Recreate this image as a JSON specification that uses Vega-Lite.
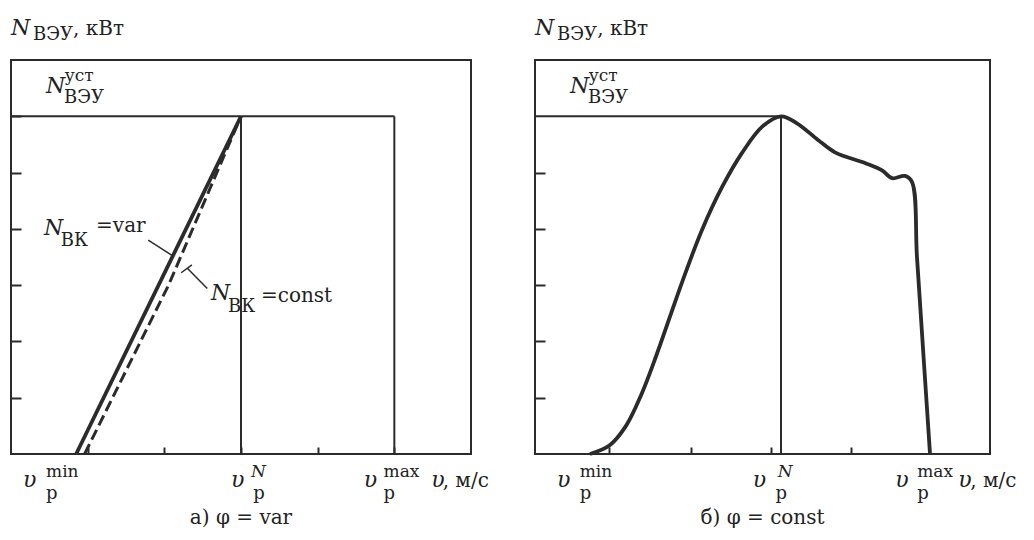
{
  "$schema": "https://vega.github.io/schema/vega-lite/v6.json",
  "background": "#ffffff",
  "padding": {"left": 9, "top": 16, "right": 0, "bottom": 0},
  "bounds": "flush",
  "spacing": 64,
  "config": {
    "view": {"stroke": "#2b2b2b", "strokeWidth": 2},
    "font": "DejaVu Serif",
    "text": {"font": "DejaVu Serif", "color": "#222222", "baseline": "alphabetic"},
    "axis": {"grid": false, "domain": false, "labels": false, "title": null, "tickColor": "#2b2b2b", "tickWidth": 2}
  },
  "datasets": {
    "rampVar": [{"x": 0.85, "y": 0}, {"x": 3, "y": 6}],
    "rampConst": [{"x": 0.96, "y": 0}, {"x": 2.055, "y": 3}, {"x": 3, "y": 6}],
    "ratedA": [
      {"x": 0, "x2": 5, "y": 6, "y2": 6},
      {"x": 3, "x2": 3, "y": 0, "y2": 6},
      {"x": 5, "x2": 5, "y": 0, "y2": 6}
    ],
    "leadersA": [
      {"x": 1.79, "y": 3.8, "x2": 2.11, "y2": 3.52},
      {"x": 2.3, "y": 3.3, "x2": 2.56, "y2": 2.94},
      {"x": 2.22, "y": 3.22, "x2": 2.36, "y2": 3.36}
    ],
    "ratedB": [
      {"x": 0, "x2": 3.244, "y": 6, "y2": 6},
      {"x": 3.244, "x2": 3.244, "y": 0, "y2": 6}
    ],
    "powerB": [
      {"x": 0.725, "y": 0},
      {"x": 0.98, "y": 0.15},
      {"x": 1.2, "y": 0.5},
      {"x": 1.4, "y": 1.05},
      {"x": 1.6, "y": 1.75},
      {"x": 1.939, "y": 3.05},
      {"x": 2.202, "y": 3.98},
      {"x": 2.466, "y": 4.74},
      {"x": 2.73, "y": 5.35},
      {"x": 3.0, "y": 5.82},
      {"x": 3.244, "y": 6.0},
      {"x": 3.45, "y": 5.88},
      {"x": 3.732, "y": 5.58},
      {"x": 3.956, "y": 5.36},
      {"x": 4.352, "y": 5.17},
      {"x": 4.576, "y": 5.04},
      {"x": 4.708, "y": 4.9},
      {"x": 4.879, "y": 4.94},
      {"x": 4.972, "y": 4.83},
      {"x": 5.037, "y": 3.5},
      {"x": 5.135, "y": 1.5},
      {"x": 5.209, "y": 0}
    ],
    "italicA": [
      {"t": "N", "x": 0.0, "y": 7.44},
      {"t": "N", "x": 0.457, "y": 6.41},
      {"t": "N", "x": 0.43, "y": 3.89},
      {"t": "N", "x": 2.61, "y": 2.74},
      {"t": "υ", "x": 0.157, "y": -0.59},
      {"t": "υ", "x": 2.87, "y": -0.59},
      {"t": "υ", "x": 4.6, "y": -0.59},
      {"t": "υ", "x": 5.48, "y": -0.59}
    ],
    "subA": [
      {"t": "ВЭУ", "x": 0.287, "y": 7.35},
      {"t": "ВЭУ", "x": 0.69, "y": 6.23},
      {"t": "ВК", "x": 0.65, "y": 3.69},
      {"t": "ВК", "x": 2.83, "y": 2.52},
      {"t": "р", "x": 0.457, "y": -0.8},
      {"t": "р", "x": 3.16, "y": -0.8},
      {"t": "р", "x": 4.86, "y": -0.8}
    ],
    "supA": [
      {"t": "уст", "x": 0.7, "y": 6.63},
      {"t": "min", "x": 0.457, "y": -0.41},
      {"t": "max", "x": 4.86, "y": -0.41}
    ],
    "supItalicA": [{"t": "N", "x": 3.13, "y": -0.41}],
    "plainA": [
      {"t": ", кВт", "x": 0.81, "y": 7.44},
      {"t": "=var", "x": 1.11, "y": 3.94},
      {"t": "=const", "x": 3.26, "y": 2.7},
      {"t": ", м/с", "x": 5.63, "y": -0.59}
    ],
    "captionA": [{"t": "а) φ = var", "x": 3.0, "y": -1.25}],
    "italicB": [
      {"t": "N", "x": 0.0, "y": 7.44},
      {"t": "N", "x": 0.46, "y": 6.41},
      {"t": "υ", "x": 0.29, "y": -0.59},
      {"t": "υ", "x": 2.87, "y": -0.59},
      {"t": "υ", "x": 4.75, "y": -0.59},
      {"t": "υ", "x": 5.58, "y": -0.59}
    ],
    "subB": [
      {"t": "ВЭУ", "x": 0.29, "y": 7.35},
      {"t": "ВЭУ", "x": 0.7, "y": 6.23},
      {"t": "р", "x": 0.59, "y": -0.8},
      {"t": "р", "x": 3.17, "y": -0.8},
      {"t": "р", "x": 5.04, "y": -0.8}
    ],
    "supB": [
      {"t": "уст", "x": 0.71, "y": 6.63},
      {"t": "min", "x": 0.59, "y": -0.41},
      {"t": "max", "x": 5.04, "y": -0.41}
    ],
    "supItalicB": [{"t": "N", "x": 3.2, "y": -0.41}],
    "plainB": [
      {"t": ", кВт", "x": 0.82, "y": 7.44},
      {"t": ", м/с", "x": 5.74, "y": -0.59}
    ],
    "captionB": [{"t": "б) φ = const", "x": 3.0, "y": -1.25}]
  },
  "hconcat": [
    {
      "width": 460,
      "height": 394,
      "encoding": {
        "x": {"field": "x", "type": "quantitative", "scale": {"domain": [0, 6], "nice": false, "zero": false},
              "axis": {"values": [1, 2, 3, 4, 5], "tickSize": -7}},
        "y": {"field": "y", "type": "quantitative", "scale": {"domain": [0, 7], "nice": false, "zero": false},
              "axis": {"values": [1, 2, 3, 4, 5, 6], "tickSize": -10}}
      },
      "layer": [
        {"data": {"name": "ratedA"}, "mark": {"type": "rule", "color": "#2b2b2b", "strokeWidth": 2},
         "encoding": {"x2": {"field": "x2"}, "y2": {"field": "y2"}}},
        {"data": {"name": "leadersA"}, "mark": {"type": "rule", "color": "#2b2b2b", "strokeWidth": 1.5},
         "encoding": {"x2": {"field": "x2"}, "y2": {"field": "y2"}}},
        {"data": {"name": "rampConst"}, "mark": {"type": "line", "color": "#2b2b2b", "strokeWidth": 3, "strokeDash": [11, 5]}, "encoding": {}},
        {"data": {"name": "rampVar"}, "mark": {"type": "line", "color": "#2b2b2b", "strokeWidth": 3.8}, "encoding": {}},
        {"data": {"name": "italicA"}, "mark": {"type": "text", "align": "left", "font": "DejaVu Serif", "fontSize": 22, "fontStyle": "italic"},
         "encoding": {"text": {"field": "t"}}},
        {"data": {"name": "subA"}, "mark": {"type": "text", "align": "left", "font": "DejaVu Serif", "fontSize": 18},
         "encoding": {"text": {"field": "t"}}},
        {"data": {"name": "supA"}, "mark": {"type": "text", "align": "left", "font": "DejaVu Serif", "fontSize": 17},
         "encoding": {"text": {"field": "t"}}},
        {"data": {"name": "supItalicA"}, "mark": {"type": "text", "align": "left", "font": "DejaVu Serif", "fontSize": 17, "fontStyle": "italic"},
         "encoding": {"text": {"field": "t"}}},
        {"data": {"name": "plainA"}, "mark": {"type": "text", "align": "left", "font": "DejaVu Serif", "fontSize": 20},
         "encoding": {"text": {"field": "t"}}},
        {"data": {"name": "captionA"}, "mark": {"type": "text", "align": "center", "font": "DejaVu Serif", "fontSize": 20},
         "encoding": {"text": {"field": "t"}}}
      ]
    },
    {
      "width": 455,
      "height": 394,
      "encoding": {
        "x": {"field": "x", "type": "quantitative", "scale": {"domain": [0, 6], "nice": false, "zero": false},
              "axis": {"values": [0.976, 2.057, 3.112, 4.167], "tickSize": -7}},
        "y": {"field": "y", "type": "quantitative", "scale": {"domain": [0, 7], "nice": false, "zero": false},
              "axis": {"values": [1, 2, 3, 4, 5], "tickSize": -10}}
      },
      "layer": [
        {"data": {"name": "ratedB"}, "mark": {"type": "rule", "color": "#2b2b2b", "strokeWidth": 2},
         "encoding": {"x2": {"field": "x2"}, "y2": {"field": "y2"}}},
        {"data": {"name": "powerB"}, "mark": {"type": "line", "color": "#2b2b2b", "strokeWidth": 3.8, "interpolate": "catmull-rom"}, "encoding": {}},
        {"data": {"name": "italicB"}, "mark": {"type": "text", "align": "left", "font": "DejaVu Serif", "fontSize": 22, "fontStyle": "italic"},
         "encoding": {"text": {"field": "t"}}},
        {"data": {"name": "subB"}, "mark": {"type": "text", "align": "left", "font": "DejaVu Serif", "fontSize": 18},
         "encoding": {"text": {"field": "t"}}},
        {"data": {"name": "supB"}, "mark": {"type": "text", "align": "left", "font": "DejaVu Serif", "fontSize": 17},
         "encoding": {"text": {"field": "t"}}},
        {"data": {"name": "supItalicB"}, "mark": {"type": "text", "align": "left", "font": "DejaVu Serif", "fontSize": 17, "fontStyle": "italic"},
         "encoding": {"text": {"field": "t"}}},
        {"data": {"name": "plainB"}, "mark": {"type": "text", "align": "left", "font": "DejaVu Serif", "fontSize": 20},
         "encoding": {"text": {"field": "t"}}},
        {"data": {"name": "captionB"}, "mark": {"type": "text", "align": "center", "font": "DejaVu Serif", "fontSize": 20},
         "encoding": {"text": {"field": "t"}}}
      ]
    }
  ]
}
